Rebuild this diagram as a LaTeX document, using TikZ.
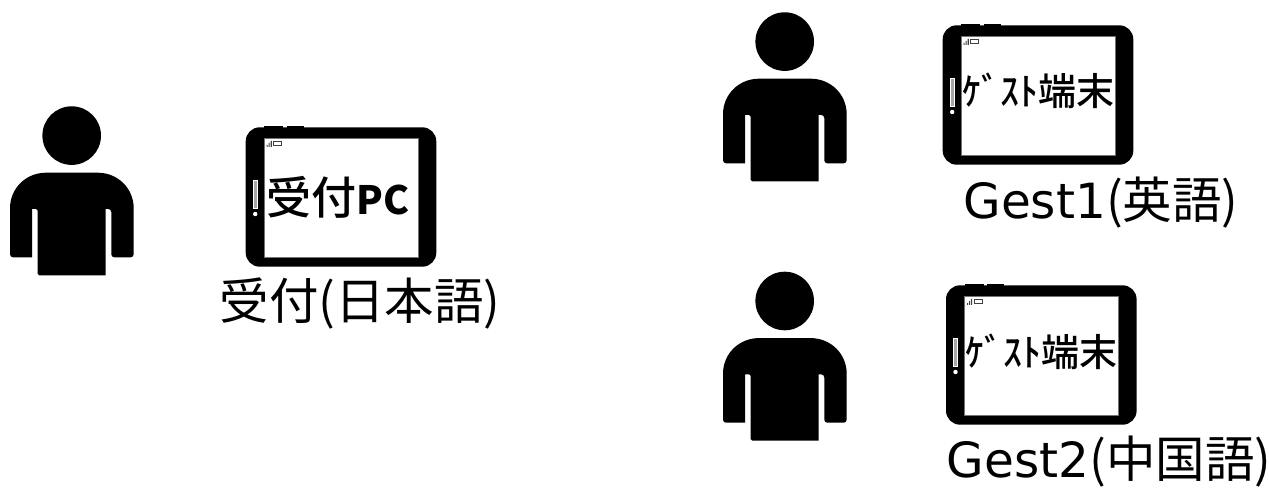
\documentclass[tikz,border=0pt]{standalone}
\usepackage{fontspec}
\setmainfont{Noto Sans CJK JP}
\newfontfamily\latinfont{DejaVu Sans}
\newfontfamily\medfont{Noto Sans CJK JP Medium}
\tikzset{
  person/.pic={
    \fill[black] (61.7,29.3) circle [radius=29.3];
    \fill[black] (0,102) .. controls (0,82) and (16,66.4) .. (36,66.4) -- (87.7,66.4)
       .. controls (107.7,66.4) and (123.7,82) .. (123.7,102)
       [rounded corners=3] -- (123.7,151) -- (101.3,151) -- (101.3,102.7)
       [sharp corners] -- (95.7,102.7) -- (95.7,169)
       [rounded corners=1.5] -- (27.7,169) -- (27.7,102.7)
       [sharp corners] -- (22,102.7) -- (22,151)
       [rounded corners=3] -- (0,151) -- (0,102) [sharp corners] -- cycle;
  },
  tablet/.pic={
    \fill[black] (18.6,-1.5) rectangle (37.5,3);
    \fill[black] (41,-1.5) rectangle (58.3,3);
    \fill[black,rounded corners=14] (0,0) rectangle (190.6,139.4);
    \fill[white,draw=black!55,line width=0.6] (18.6,11) rectangle (172.6,130);
    \fill[black!35,draw=white,line width=0.5] (7.6,53.4) rectangle (11.4,81);
    \fill[white] (9.5,86.7) circle [radius=2.2];
    \fill[black!75] (21,17.5) rectangle (22,19.5) (23,15.5) rectangle (24,19.5) (25,13.5) rectangle (26.2,19.5);
    \draw[black!75,line width=0.7] (28,14) rectangle (36,18.5);
  },
  caption/.style={font=\fontsize{49.5}{50}\selectfont, inner sep=0pt, anchor=center},
  screentext/.style={font=\medfont\fontsize{38}{38}\selectfont, inner sep=0pt, anchor=center},
  frontext/.style={font=\medfont\fontsize{45}{45}\selectfont, inner sep=0pt, anchor=center},
}
\begin{document}
\begin{tikzpicture}[x=1pt,y=-1pt]
\useasboundingbox (0,0) rectangle (1269,489);
\fill[white] (0,0) rectangle (1269,489);
\pic at (10,106.3) {person};
\pic at (723,12.3) {person};
\pic at (723,271.7) {person};
\pic at (245.7,127.3) {tablet};
\pic at (942.7,25.3) {tablet};
\pic at (946,285.3) {tablet};
\node[frontext] (pcscreen) at (338,197) {受付{\setmainfont{Noto Sans CJK JP}\normalfont\bfseries\fontsize{39}{39}\selectfont PC}};
\node[screentext] (g1screen) at (1038,91) {ｹﾞｽﾄ端末};
\node[screentext] (g2screen) at (1041,352) {ｹﾞｽﾄ端末};
\node[caption] (cap0) at (360,303) {受付(日本語)};
\node[caption] (cap1) at (1101,203) {{\latinfont\fontsize{48.5}{50}\selectfont Gest1}(英語)};
\node[caption] (cap2) at (1109,462) {{\latinfont\fontsize{48.5}{50}\selectfont Gest2}(中国語)};
\end{tikzpicture}
\end{document}
